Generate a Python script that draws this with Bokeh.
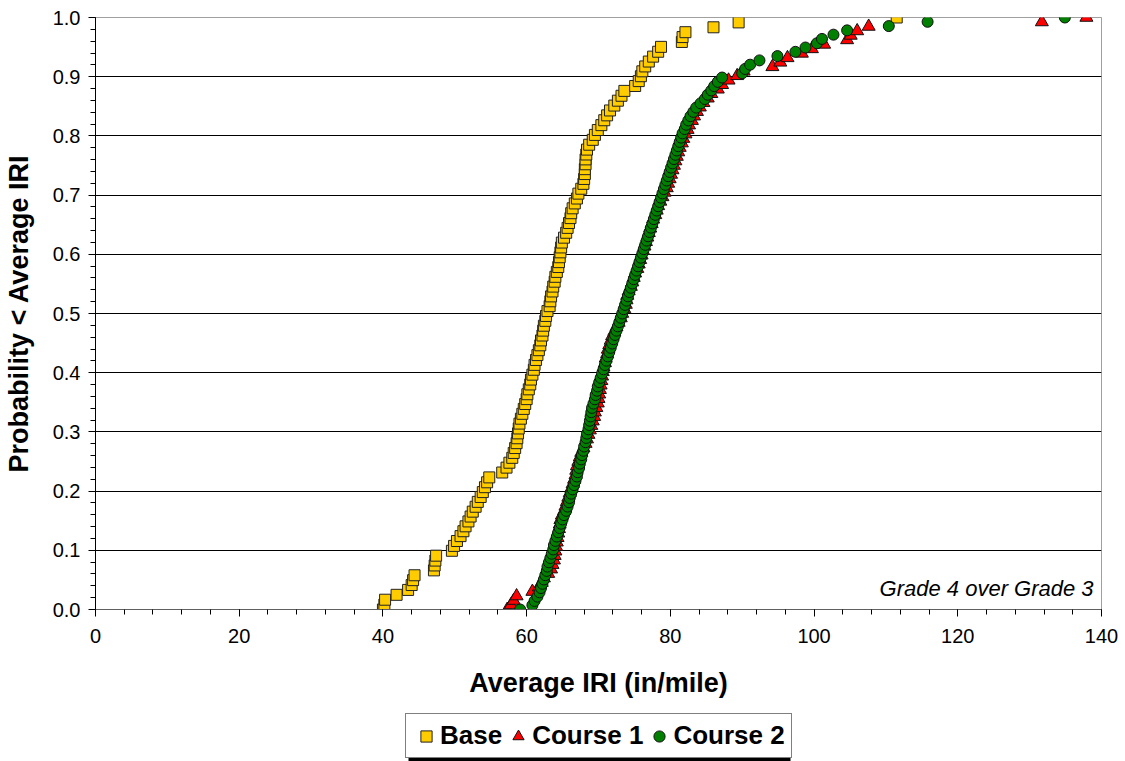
from bokeh.plotting import figure
from bokeh.layouts import column
from bokeh.models import (FixedTicker, NumeralTickFormatter, Legend, LegendItem, Label,
                          ColumnDataSource, BoxAnnotation)
from bokeh.embed import file_html
from bokeh.resources import INLINE

# ---- data (Average IRI values, in/mile) ----
base_iri = [
    40.0, 40.2, 40.3, 41.9, 43.5, 44.0, 44.2, 44.4, 47.1, 47.2,
    47.3, 47.4, 49.6, 49.9, 50.3, 50.8, 51.2, 51.5, 51.9, 52.2,
    52.5, 52.9, 53.2, 53.6, 53.9, 54.2, 54.5, 54.8, 56.6, 57.2,
    57.6, 58.0, 58.2, 58.4, 58.6, 58.7, 58.8, 58.9, 59.0, 59.2,
    59.4, 59.6, 59.8, 60.0, 60.1, 60.3, 60.5, 60.6, 60.8, 61.0,
    61.1, 61.3, 61.5, 61.7, 61.9, 62.0, 62.2, 62.3, 62.4, 62.6,
    62.7, 62.9, 63.2, 63.3, 63.4, 63.6, 63.7, 63.9, 64.0, 64.2,
    64.4, 64.5, 64.6, 64.7, 64.8, 64.9, 65.2, 65.5, 65.7, 65.9,
    66.1, 66.2, 66.4, 66.7, 67.0, 67.2, 67.6, 67.9, 68.0, 68.1,
    68.1, 68.2, 68.2, 68.3, 68.4, 68.7, 69.2, 69.5, 69.9, 70.4,
    70.8, 71.2, 71.6, 72.2, 72.7, 73.2, 73.6, 75.1, 75.6, 75.9,
    76.1, 76.5, 77.0, 77.6, 78.3, 78.7, 81.6, 81.7, 82.1, 86.0,
    89.5, 111.5,
]

course1_iri = [
    57.3, 57.8, 58.2, 58.6, 60.8, 61.7, 62.1, 62.4, 63.0, 63.4,
    63.6, 63.8, 63.9, 64.0, 64.1, 64.2, 64.3, 64.4, 64.5, 64.6,
    64.7, 64.9, 65.2, 65.4, 65.6, 65.8, 66.0, 66.2, 66.4, 66.6,
    66.8, 66.9, 67.0, 67.2, 67.4, 67.6, 67.9, 68.2, 68.4, 68.6,
    68.8, 69.0, 69.2, 69.4, 69.5, 69.7, 69.9, 70.0, 70.1, 70.2,
    70.3, 70.4, 70.5, 70.6, 70.7, 70.9, 71.0, 71.2, 71.3, 71.5,
    71.7, 71.9, 72.2, 72.5, 72.8, 73.1, 73.3, 73.6, 73.8, 73.9,
    74.0, 74.2, 74.5, 74.7, 74.9, 75.1, 75.4, 75.6, 75.8, 76.0,
    76.2, 76.4, 76.6, 76.8, 77.0, 77.2, 77.4, 77.6, 77.9, 78.1,
    78.3, 78.6, 78.9, 79.2, 79.5, 79.7, 79.9, 80.1, 80.3, 80.5,
    80.7, 80.9, 81.1, 81.3, 81.6, 81.8, 82.1, 82.4, 82.6, 83.0,
    83.3, 83.7, 84.1, 84.6, 85.2, 85.7, 86.6, 87.2, 88.1, 89.3,
    90.2, 94.2, 95.3, 96.3, 98.3, 99.7, 101.4, 104.6, 105.1, 106.0,
    107.6, 131.7, 137.9,
]

course2_iri = [
    59.1, 60.8, 61.1, 61.5, 61.8, 62.0, 62.2, 62.4, 62.6, 62.8,
    62.9, 63.1, 63.3, 63.5, 63.7, 63.8, 64.0, 64.2, 64.4, 64.6,
    64.8, 65.0, 65.2, 65.5, 65.7, 65.9, 66.0, 66.2, 66.4, 66.6,
    66.8, 67.0, 67.1, 67.3, 67.4, 67.6, 67.7, 67.9, 68.0, 68.2,
    68.3, 68.4, 68.6, 68.7, 68.8, 68.9, 69.0, 69.1, 69.3, 69.5,
    69.6, 69.8, 69.9, 70.1, 70.3, 70.5, 70.7, 70.9, 71.1, 71.3,
    71.5, 71.7, 71.9, 72.1, 72.3, 72.5, 72.7, 72.9, 73.1, 73.3,
    73.5, 73.7, 73.9, 74.1, 74.3, 74.5, 74.7, 74.9, 75.1, 75.3,
    75.5, 75.7, 75.9, 76.1, 76.3, 76.5, 76.7, 76.9, 77.1, 77.3,
    77.5, 77.7, 77.9, 78.1, 78.3, 78.5, 78.7, 78.9, 79.1, 79.3,
    79.5, 79.7, 79.9, 80.1, 80.3, 80.5, 80.7, 80.9, 81.1, 81.3,
    81.5, 81.7, 82.0, 82.2, 82.5, 82.8, 83.2, 83.6, 84.2, 84.8,
    85.2, 85.7, 86.1, 86.6, 87.2, 90.0, 90.4, 91.1, 92.4, 94.9,
    97.4, 98.8, 100.4, 101.1, 102.7, 104.6, 110.4, 115.8, 134.9,
]

series_names = ["Base", "Course 1", "Course 2"]
x_tick_values = [0, 20, 40, 60, 80, 100, 120, 140]
y_tick_values = [0.0, 0.1, 0.2, 0.3, 0.4, 0.5, 0.6, 0.7, 0.8, 0.9, 1.0]
annotation_text = "Grade 4 over Grade 3"


def ecdf(values):
    """Empirical cumulative probability (rank based) of sorted values."""
    v = sorted(values)
    n = len(v)
    return dict(x=v, y=[i / (n - 1) for i in range(n)])


FONT = "Liberation Sans"

src_base = ColumnDataSource(ecdf(base_iri))
src_c1 = ColumnDataSource(ecdf(course1_iri))
src_c2 = ColumnDataSource(ecdf(course2_iri))

styles = [
    dict(marker="square", size=11, fill_color="#FFCC00", line_color="#222222", line_width=1),
    dict(marker="triangle", size=13, fill_color="#FF0000", line_color="#111111", line_width=1),
    dict(marker="circle", size=11, fill_color="#008000", line_color="#111111", line_width=1),
]
sources = [src_base, src_c1, src_c2]

# ---------------- main chart ----------------
p = figure(
    width=1125, height=705,
    x_range=(0, 140), y_range=(0, 1),
    output_backend="svg", toolbar_location=None,
    min_border_left=95, min_border_right=24,
    min_border_top=17, min_border_bottom=96,
    background_fill_color="white", border_fill_color="white",
)
p.outline_line_color = "#a0a0a0"
p.outline_line_width = 1

p.xgrid.visible = False
p.ygrid.ticker = FixedTicker(ticks=y_tick_values[:-1])
p.ygrid.grid_line_color = "black"
p.ygrid.grid_line_width = 1

p.xaxis.ticker = FixedTicker(ticks=x_tick_values, minor_ticks=list(range(0, 141, 4)))
p.yaxis.ticker = FixedTicker(ticks=y_tick_values,
                             minor_ticks=[round(i * 0.02, 2) for i in range(51)])
p.yaxis.formatter = NumeralTickFormatter(format="0.0")

for ax in (p.xaxis[0], p.yaxis[0]):
    ax.axis_line_color = "black"
    ax.axis_line_width = 1
    ax.major_tick_in = 0
    ax.minor_tick_in = 0
    ax.major_tick_out = 7
    ax.minor_tick_out = 5
    ax.major_tick_line_color = "black"
    ax.minor_tick_line_color = "black"
    ax.major_label_text_font = FONT
    ax.major_label_text_font_size = "20px"
    ax.major_label_text_color = "black"
    ax.axis_label_text_font = FONT
    ax.axis_label_text_font_style = "bold"
    ax.axis_label_text_color = "black"

p.xaxis.axis_line_color = "#606060"
p.xaxis.axis_label = "Average IRI (in/mile)"
p.yaxis.axis_label = "Probability < Average IRI"
p.xaxis.axis_label_text_font_size = "27px"
p.yaxis.axis_label_text_font_size = "27px"
p.xaxis.major_label_standoff = 12
p.xaxis.axis_label_standoff = 22
p.yaxis.major_label_standoff = 8
p.yaxis.axis_label_standoff = 16

for src, st in zip(sources, styles):
    p.scatter("x", "y", source=src, **st)

p.add_layout(Label(x=138.9, y=0.035, text=annotation_text, text_align="right",
                   text_baseline="middle", text_font=FONT, text_font_style="italic",
                   text_font_size="22px", text_color="black"))

# ---------------- legend strip (below the chart) ----------------
pl = figure(
    width=1125, height=56, x_range=(0, 1006), y_range=(0, 56),
    output_backend="svg", toolbar_location=None,
    x_axis_type=None, y_axis_type=None, min_border=0,
    background_fill_color="white", border_fill_color="white",
)
pl.outline_line_color = None
pl.grid.visible = False

# drop shadow behind the legend box
pl.add_layout(BoxAnnotation(left=313, right=695, bottom=0, top=41,
                            fill_color="black", fill_alpha=1, line_color=None))

leg_renderers = []
for src, st in zip(sources, styles):
    r = pl.scatter("x", "y", source=src, **st)
    r.visible = False
    leg_renderers.append(r)

legend = Legend(
    items=[LegendItem(label=name, renderers=[r]) for name, r in zip(series_names, leg_renderers)],
    orientation="horizontal",
    location=(310, 3),
    border_line_color="black", border_line_width=1,
    background_fill_color="white", background_fill_alpha=1,
    label_text_font=FONT, label_text_font_style="bold",
    label_text_font_size="26px", label_text_color="black",
    glyph_width=28, glyph_height=28, label_standoff=0, spacing=2,
    padding=6, margin=0, inactive_fill_alpha=0,
)
pl.add_layout(legend)

open("out.html", "w").write(file_html(column(p, pl, spacing=0), INLINE))
